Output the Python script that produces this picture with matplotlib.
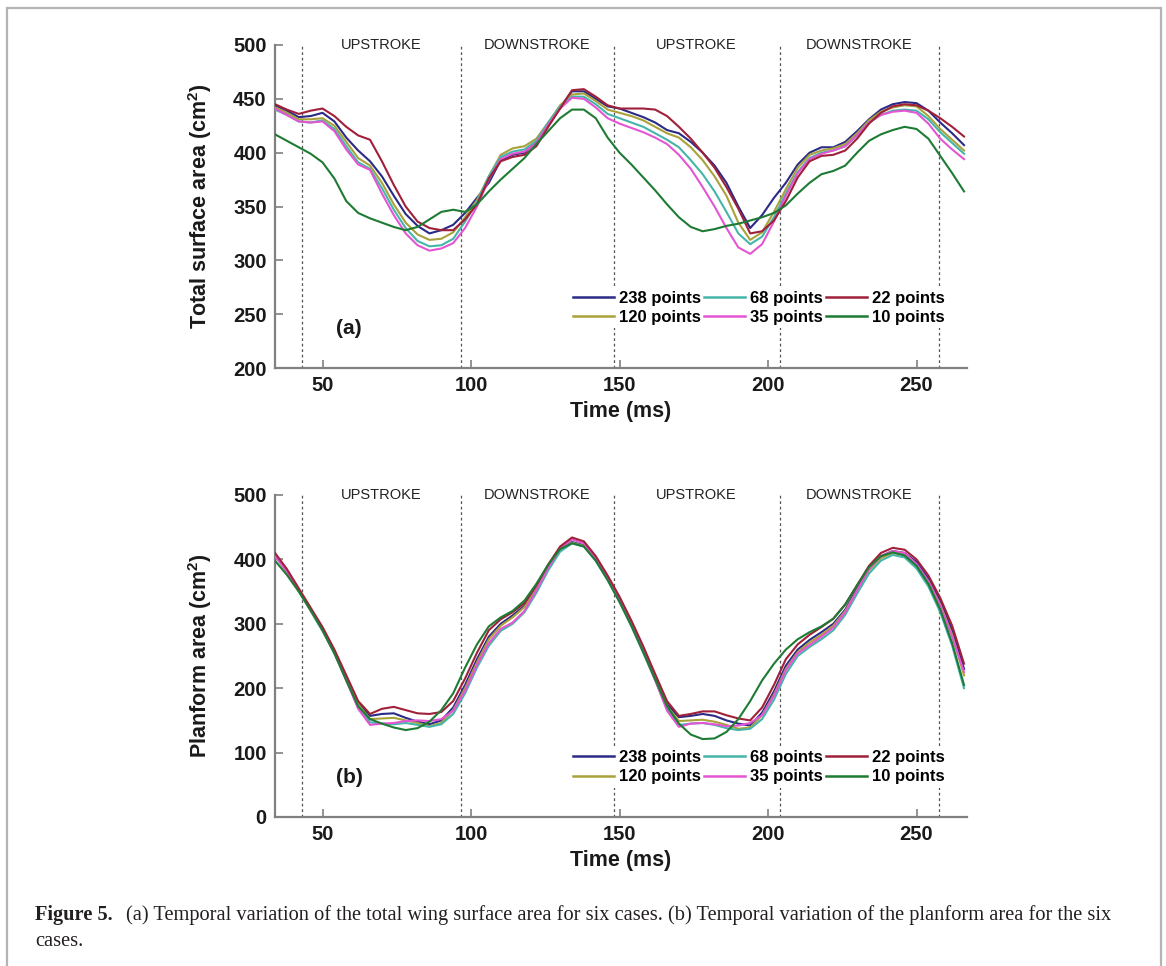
import matplotlib
matplotlib.use("Agg")
import matplotlib.pyplot as plt
from matplotlib.patches import Rectangle

# ---------------- data ----------------
time_ms = [34, 38, 42, 46, 50, 54, 58, 62, 66, 70, 74, 78, 82, 86, 90, 94, 98, 102, 106, 110,
           114, 118, 122, 126, 130, 134, 138, 142, 146, 150, 154, 158, 162, 166, 170, 174, 178,
           182, 186, 190, 194, 198, 202, 206, 210, 214, 218, 222, 226, 230, 234, 238, 242, 246,
           250, 254, 258, 262, 266]

labels = ["238 points", "120 points", "68 points", "35 points", "22 points", "10 points"]
colors = ["#2B2A86", "#A9A23A", "#45B5AA", "#E455D4", "#A0203A", "#1E7B34"]

# (a) total surface area (cm^2)
surf_238 = [444, 439, 433, 434, 437, 429, 414, 402, 392, 378, 360, 343, 332, 325, 328, 333, 344, 358, 372, 393,
            398, 400, 410, 426, 442, 457, 457, 450, 443, 441, 437, 433, 428, 421, 418, 410, 400,
            388, 372, 350, 330, 342, 358, 372, 389, 400, 405, 405, 410, 420, 431, 440, 445, 447,
            446, 439, 428, 418, 407]
surf_120 = [442, 437, 431, 431, 432, 425, 410, 395, 388, 372, 352, 335, 324, 319, 320, 326, 340, 356, 378, 398,
            404, 406, 413, 428, 444, 454, 455, 448, 440, 437, 434, 430, 424, 418, 414, 405, 393,
            378, 360, 335, 319, 326, 345, 366, 386, 398, 402, 404, 408, 418, 430, 438, 442, 444,
            443, 434, 422, 412, 402]
surf_68 = [440, 435, 429, 428, 430, 422, 406, 391, 385, 367, 347, 330, 318, 313, 314, 320, 336, 354, 378, 396,
           401, 403, 411, 428, 443, 452, 452, 445, 436, 432, 428, 424, 418, 412, 405, 393, 380,
           364, 345, 325, 315, 322, 340, 362, 382, 395, 400, 402, 406, 416, 428, 435, 439, 440,
           439, 431, 419, 409, 399]
surf_35 = [441, 435, 429, 428, 429, 420, 403, 389, 384, 362, 342, 325, 314, 309, 311, 316, 330, 350, 375, 394,
           399, 401, 409, 426, 441, 451, 450, 442, 432, 427, 423, 419, 414, 408, 398, 385, 368,
           350, 330, 312, 306, 315, 336, 360, 381, 394, 399, 402, 406, 416, 428, 435, 438, 439,
           437, 427, 413, 403, 394]
surf_22 = [445, 440, 436, 439, 441, 434, 424, 416, 412, 392, 370, 350, 336, 330, 328, 328, 338, 352, 376, 392,
           396, 398, 406, 424, 441, 458, 459, 452, 444, 441, 441, 441, 440, 434, 424, 413, 400,
           386, 368, 348, 325, 327, 337, 355, 377, 392, 397, 398, 402, 413, 427, 437, 443, 445,
           444, 439, 432, 424, 415]
surf_10 = [417, 411, 405, 399, 391, 376, 355, 344, 339, 335, 331, 328, 331, 338, 345, 347, 345, 352, 364, 375,
           385, 395, 408, 420, 432, 440, 440, 432, 414, 400, 389, 377, 365, 352, 340, 331, 327,
           329, 332, 334, 337, 340, 344, 351, 362, 372, 380, 383, 388, 400, 411, 417, 421, 424,
           422, 413, 397, 381, 364]

# (b) planform area (cm^2)
plan_238 = [408, 383, 353, 322, 292, 257, 218, 178, 157, 160, 161, 154, 148, 144, 150, 170, 205, 245, 280, 300,
            313, 328, 355, 388, 415, 427, 422, 400, 372, 338, 300, 260, 217, 175, 155, 157, 160,
            157, 150, 145, 142, 162, 195, 235, 260, 275, 287, 300, 322, 355, 385, 405, 413, 410,
            396, 370, 335, 290, 230]
plan_120 = [407, 382, 352, 321, 290, 255, 215, 175, 152, 153, 154, 150, 146, 141, 146, 166, 200, 240, 276, 297,
            310, 326, 354, 387, 414, 426, 421, 399, 370, 336, 298, 258, 215, 172, 149, 150, 151,
            148, 143, 137, 139, 158, 190, 230, 256, 271, 283, 297, 320, 352, 383, 402, 410, 407,
            392, 366, 330, 283, 220]
plan_68 = [406, 381, 351, 320, 289, 254, 213, 172, 147, 145, 144, 146, 143, 140, 144, 160, 192, 232, 266, 289,
           300, 318, 348, 383, 412, 425, 420, 398, 368, 334, 296, 255, 212, 168, 143, 145, 146,
           143, 138, 135, 137, 152, 182, 222, 250, 264, 276, 290, 314, 347, 378, 398, 407, 403,
           386, 358, 318, 266, 200]
plan_35 = [405, 381, 352, 321, 290, 255, 212, 168, 143, 145, 146, 149, 150, 149, 152, 165, 196, 236, 270, 292,
           302, 320, 352, 387, 417, 431, 425, 402, 372, 337, 298, 257, 213, 165, 140, 145, 146,
           144, 141, 142, 146, 158, 188, 228, 254, 267, 280, 294, 318, 352, 385, 405, 413, 410,
           393, 366, 328, 280, 225]
plan_22 = [410, 385, 355, 325, 295, 260, 220, 180, 160, 168, 171, 166, 161, 160, 163, 180, 215, 255, 290, 307,
           318, 332, 360, 392, 420, 434, 428, 405, 375, 342, 305, 265, 222, 180, 157, 160, 164,
           164, 158, 153, 150, 170, 205, 245, 268, 283, 295, 308, 330, 360, 390, 410, 418, 415,
           400, 375, 340, 297, 238]
plan_10 = [398, 376, 350, 321, 290, 254, 212, 172, 152, 145, 139, 135, 138, 148, 166, 192, 232, 268, 296, 310,
           320, 336, 362, 392, 416, 425, 420, 398, 368, 334, 297, 256, 214, 172, 145, 128, 121,
           122, 132, 152, 180, 212, 238, 260, 276, 287, 296, 308, 330, 360, 388, 405, 411, 406,
           390, 362, 322, 270, 205]

stroke_bounds = [43.1, 96.6, 148.0, 203.9, 257.6]
stroke_names = ["UPSTROKE", "DOWNSTROKE", "UPSTROKE", "DOWNSTROKE"]

surf_series = [surf_238, surf_120, surf_68, surf_35, surf_22, surf_10]
plan_series = [plan_238, plan_120, plan_68, plan_35, plan_22, plan_10]

caption_bold = "Figure 5."
caption_rest = ("(a) Temporal variation of the total wing surface area for six cases. "
                "(b) Temporal variation of the planform area for the six")
caption_line2 = "cases."

# ---------------- style ----------------
SANS = "Liberation Sans"
SERIF = "Liberation Serif"
plt.rcParams["font.family"] = [SANS, "DejaVu Sans"]
plt.rcParams["mathtext.fontset"] = "custom"
plt.rcParams["mathtext.bf"] = SANS + ":bold"
plt.rcParams["mathtext.rm"] = SANS

W, H = 1166, 966
fig = plt.figure(figsize=(W / 100, H / 100), dpi=100)
fig.patch.set_facecolor("white")

def px_axes(left, top, right, bottom):
    return fig.add_axes([left / W, 1 - bottom / H, (right - left) / W, (bottom - top) / H])

ax_a = px_axes(275, 45, 967, 368)
ax_b = px_axes(275, 495, 967, 817)

spine_col = "#808080"

def style_axes(ax, series, ylim, yticks, ylabel, tag, tag_y, leg_y):
    for s, c, lab in zip(series, colors, labels):
        ax.plot(time_ms, s, color=c, lw=1.5, label=lab, zorder=3)
    for b in stroke_bounds:
        ax.axvline(b, color="#555555", lw=0.9, ls=(0, (2.2, 2.2)), zorder=1)
    for i, name in enumerate(stroke_names):
        xm = 0.5 * (stroke_bounds[i] + stroke_bounds[i + 1])
        ax.text(xm, ylim[1], name, ha="center", va="center", fontsize=10.5,
                color="#222222", zorder=2)
    ax.set_xlim(34, 267)
    ax.set_ylim(*ylim)
    ax.set_yticks(yticks)
    ax.set_xticks([50, 100, 150, 200, 250])
    for sp in ["top", "right"]:
        ax.spines[sp].set_visible(False)
    for sp in ["left", "bottom"]:
        ax.spines[sp].set_color(spine_col)
        ax.spines[sp].set_linewidth(1.6)
    ax.tick_params(direction="in", length=6, width=1.2, color=spine_col,
                   labelsize=14.5, pad=6)
    for lab in ax.get_xticklabels() + ax.get_yticklabels():
        lab.set_fontweight("bold")
        lab.set_color("#1a1a1a")
    ax.set_xlabel("Time (ms)", fontsize=15.5, fontweight="bold", labelpad=4, color="#1a1a1a")
    ax.set_ylabel(ylabel, fontsize=15.5, fontweight="bold", labelpad=14, color="#1a1a1a")
    ax.text(59, tag_y, tag, ha="center", va="center", fontsize=15, fontweight="bold",
            color="#1a1a1a")
    leg = ax.legend(ncol=3, loc="center left", bbox_to_anchor=(0.426, leg_y),
                    frameon=True, fancybox=False, framealpha=1, edgecolor="none",
                    facecolor="white", handlelength=2.45, handletextpad=0.3,
                    columnspacing=0.2, labelspacing=0.25, borderpad=0.2,
                    borderaxespad=0.0, prop={"family": SANS, "weight": "bold", "size": 12})
    leg.set_zorder(5)
    for l in leg.get_lines():
        l.set_linewidth(1.8)

style_axes(ax_a, surf_series, (200, 500), [200, 250, 300, 350, 400, 450, 500],
           r"Total surface area (cm$^{\mathbf{2}}$)", "(a)", 237, 0.187)
style_axes(ax_b, plan_series, (0, 500), [0, 100, 200, 300, 400, 500],
           r"Planform area (cm$^{\mathbf{2}}$)", "(b)", 62, 0.154)

# ---------------- caption ----------------
fig.canvas.draw()
r = fig.canvas.get_renderer()
fs = 12.5
tb = fig.text(35 / W, 1 - 915 / H, caption_bold, fontsize=fs, fontweight="bold",
              family=SERIF, va="center", ha="left", color="#231f20")
tr = fig.text(0, 1 - 915 / H, caption_rest, fontsize=fs, family=SERIF, va="center",
              ha="left", color="#231f20")
for _ in range(4):
    tb.set_fontsize(fs)
    tr.set_fontsize(fs)
    wb = tb.get_window_extent(r).width
    tr.set_x((35 + wb + 13) / W)
    wr = tr.get_window_extent(r).width
    total = wb + 13 + wr
    fs = fs * (1112 - 35) / total
t2 = fig.text(35 / W, 1 - 941 / H, caption_line2, fontsize=fs, family=SERIF,
              va="center", ha="left", color="#231f20")

# outer frame
fig.patches.append(Rectangle((7 / W, -0.05), (1161 - 7) / W, (1 - 8 / H) + 0.05,
                             transform=fig.transFigure, fill=False,
                             edgecolor="#b4b4b4", lw=1.6, clip_on=False))

fig.savefig("out.png", dpi=100)
